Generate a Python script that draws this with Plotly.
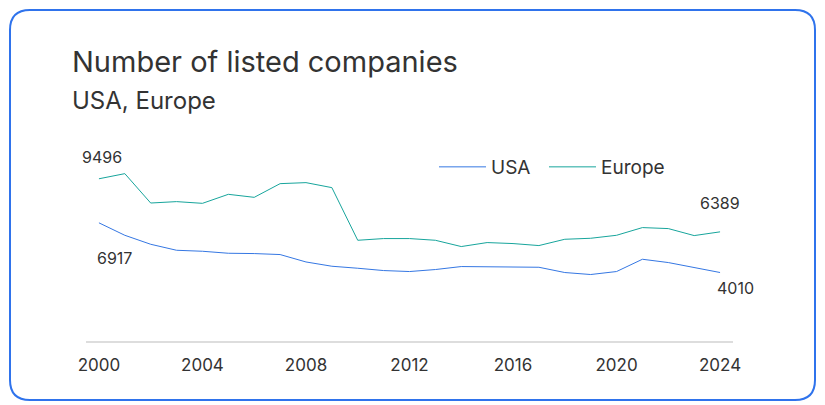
import plotly.graph_objects as go

years = list(range(2000, 2025))
usa = [6917, 6188, 5662, 5311, 5253, 5136, 5118, 5060, 4627, 4376, 4259, 4124, 4066,
       4183, 4358, 4358, 4317, 4317, 4008, 3891, 4066, 4785, 4592, 4300, 4010]
europe = [9496, 9796, 8077, 8159, 8059, 8586, 8410, 9211, 9270, 8977, 5896, 5996, 5996,
          5896, 5528, 5762, 5703, 5586, 5955, 6013, 6188, 6639, 6580, 6171, 6389]
series_names = ["USA", "Europe"]
colors = ["#3577e3", "#17a59c"]
tick_years = [2000, 2004, 2008, 2012, 2016, 2020, 2024]

W, H = 817, 397
ML, MR, MT, MB = 78, 92, 128, 64
pw = W - ML - MR
ph = H - MT - MB

def px(x):
    return (x - ML) / pw

def py(y):
    return (H - MB - y) / ph

fig = go.Figure()
for name, vals, c, lg in zip(series_names, [usa, europe], colors, ["legend", "legend2"]):
    fig.add_trace(go.Scatter(x=years, y=vals, mode="lines", name=name, legend=lg,
                             line=dict(color=c, width=1)))

txt = "#333333"
# end labels
fig.add_annotation(x=years[0], y=europe[0], text=str(europe[0]), showarrow=False,
                   xshift=3, yshift=22, font=dict(size=16, color=txt))
fig.add_annotation(x=years[0], y=usa[0], text=str(usa[0]), showarrow=False,
                   xshift=16, yshift=-35, font=dict(size=16, color=txt))
fig.add_annotation(x=years[-1], y=europe[-1], text=str(europe[-1]), showarrow=False,
                   xshift=0, yshift=29, font=dict(size=16, color=txt))
fig.add_annotation(x=years[-1], y=usa[-1], text=str(usa[-1]), showarrow=False,
                   xshift=15, yshift=-15.5, font=dict(size=16, color=txt))

# title + subtitle
fig.add_annotation(xref="paper", yref="paper", x=px(62), y=py(53.5),
                   xanchor="left", yanchor="middle", showarrow=False,
                   text="Number of listed companies", font=dict(size=29, color=txt))
fig.add_annotation(xref="paper", yref="paper", x=px(62), y=py(92),
                   xanchor="left", yanchor="middle", showarrow=False,
                   text="USA, Europe", font=dict(size=24, color=txt))

# rounded border
x0, x1, y0, y1 = px(2), px(807), py(392), py(2)
rx, ry = 20 / pw, 20 / ph
path = (f"M {x0+rx},{y1} L {x1-rx},{y1} Q {x1},{y1} {x1},{y1-ry} "
        f"L {x1},{y0+ry} Q {x1},{y0} {x1-rx},{y0} L {x0+rx},{y0} "
        f"Q {x0},{y0} {x0},{y0+ry} L {x0},{y1-ry} Q {x0},{y1} {x0+rx},{y1} Z")
fig.add_shape(type="path", path=path, xref="paper", yref="paper",
              line=dict(color="#2f73ec", width=2))

leg_common = dict(orientation="h", y=py(159), xanchor="left", yanchor="middle",
                  font=dict(size=19, color=txt), bgcolor="rgba(0,0,0,0)", itemwidth=47)

fig.update_layout(
    width=W, height=H,
    margin=dict(l=ML, r=MR, t=MT, b=MB),
    paper_bgcolor="white", plot_bgcolor="white",
    font=dict(family="Inter", color=txt),
    showlegend=True,
    legend=dict(x=px(426), **leg_common),
    legend2=dict(x=px(536), **leg_common),
    xaxis=dict(range=[1999.5, 2024.5], tickvals=tick_years, showgrid=False,
               zeroline=False, showline=True, linecolor="#dddddd", linewidth=2,
               ticks="", ticklabelstandoff=8, tickfont=dict(size=17, color=txt)),
    yaxis=dict(range=[0, 12000], showgrid=False, zeroline=False, showline=False,
               showticklabels=False),
)

fig.write_html("out.html")
